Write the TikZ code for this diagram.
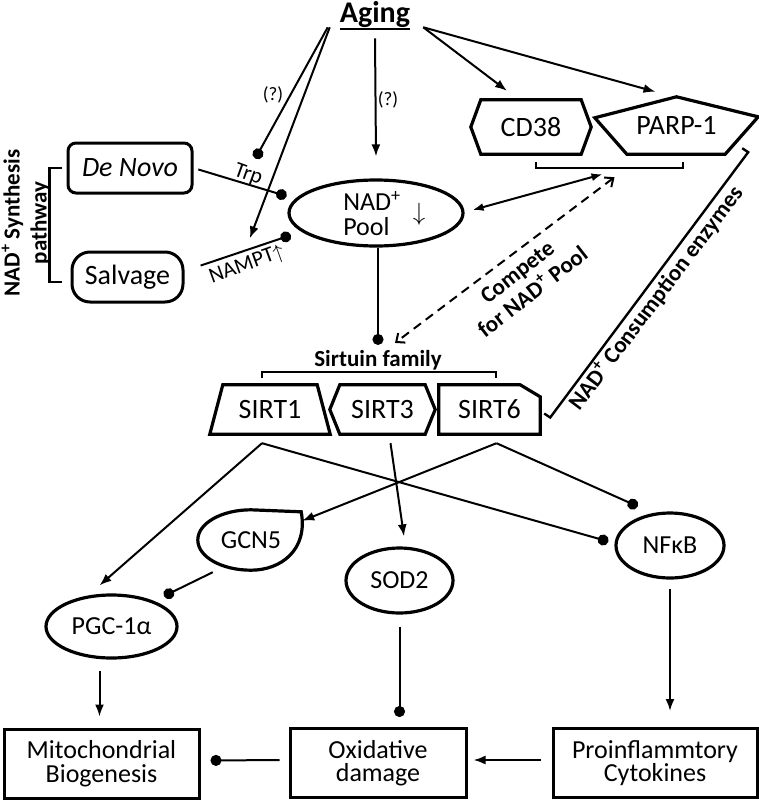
\documentclass[tikz,border=0pt]{standalone}
\usepackage{fontspec}
\setmainfont{Carlito}
\usetikzlibrary{arrows.meta,shapes.geometric}
\begin{document}
\begin{tikzpicture}[x=1pt,y=-1pt,
	lbl/.style={font=\fontsize{28}{30}\selectfont,inner sep=0pt},
	olbl/.style={font=\fontsize{26}{25}\selectfont,inner sep=0pt},
	bold/.style={font=\fontsize{23}{25}\selectfont\bfseries,inner sep=1pt},
	small/.style={font=\fontsize{19}{21}\selectfont,inner sep=1pt},
	outline/.style={line width=3.2pt,line join=miter},
	oval/.style={ellipse,draw,line width=3.2pt,inner sep=0pt,font=\fontsize{26}{25}\selectfont},
	rbox/.style={draw,line width=3pt,rounded corners=8pt,inner sep=0pt,font=\fontsize{28}{30}\selectfont},
	box/.style={draw,line width=3pt,minimum height=69,align=center,inner sep=0pt,font=\fontsize{26}{23.5}\selectfont},
	link/.style={line width=2pt},
	act/.style={link,-{Latex[length=12pt,width=9pt]}},
	inh/.style={link,-{Circle[length=11pt]}},
	brace/.style={line width=2.4pt}]
	\useasboundingbox (0,0) rectangle (759,800);

	\node[font=\fontsize{30}{32}\selectfont\bfseries,inner sep=0pt,anchor=base] (aging) at (375,23) {Aging};
	\draw[line width=2.2pt] ([yshift=-1pt]aging.south west) -- ([yshift=-1pt]aging.south east);
	\node[small] (q1) at (273,95) {(?)};
	\node[small] (q2) at (388,100) {(?)};

	% NAD+ pool and synthesis
	\node[oval,minimum width=174,minimum height=66] (pool) at (376,213) {};
	\node[olbl,align=left] (pooltxt) at (372,214) {NAD\textsuperscript{+}\\Pool};
	\node[olbl] (pooldown) at (419,214) {$\downarrow$};
	\node[rbox,minimum width=124,minimum height=50] (denovo) at (130,168) {\itshape De Novo};
	\node[rbox,rounded corners=18pt,minimum width=111,minimum height=50] (salvage) at (127.5,277) {Salvage};
	\node[bold,font=\fontsize{23}{27}\selectfont\bfseries,rotate=90,align=center] (synth) at (26,223) {NAD\textsuperscript{+} Synthesis\\pathway};
	\draw[brace] ([xshift=-5pt]denovo.west) -- ++(-12,0) |- ([xshift=-9pt,yshift=-5pt]salvage.west);
	\node[small,font=\fontsize{22}{24}\selectfont,rotate=-20] (trp) at (248,175) {Trp};
	\node[small,font=\fontsize{22}{24}\selectfont,rotate=20] (nampt) at (247,265) {NAMPT$\uparrow$};
	\draw[inh,shorten <=5pt,shorten >=9pt] (denovo.east) -- (pool.170);
	\draw[inh,shorten <=17pt,shorten >=11pt] ([yshift=6pt]salvage.east) -- (pool.194);

	% consumption enzymes
	\node[lbl,minimum width=120,minimum height=54] (cd38) at (531,127) {CD38};
	\draw[outline] (cd38.west) -- ([xshift=10pt]cd38.north west) -- ([xshift=-10pt]cd38.north east) -- (cd38.east) -- ([xshift=-10pt]cd38.south east) -- ([xshift=10pt]cd38.south west) -- cycle;
	\node[lbl,minimum width=163,minimum height=57] (parp) at (676.5,125.5) {PARP-1};
	\draw[outline] ([yshift=-21pt]parp.north west) -- (parp.north) -- ([yshift=-20pt]parp.north east) -- ([xshift=-33pt]parp.south east) -- ([xshift=32pt]parp.south west) -- cycle;
	\draw[brace] ([xshift=5pt,yshift=-8pt]cd38.south) -- ++(0,6) -| node[coordinate,pos=0.25] (enz) {} ([xshift=6.5pt,yshift=-8pt]parp.south);

	% arrows from aging
	\draw[inh,shorten >=8pt] ([xshift=-12pt,yshift=1pt]aging.south west) -- (trp.north);
	\draw[act,shorten >=18pt] ([xshift=-10pt,yshift=1pt]aging.south west) -- (nampt.north);
	\draw[act] ([yshift=-10pt]aging.south) -- ([yshift=22pt]pool.north);
	\draw[act] ([xshift=13pt,yshift=1pt]aging.south east) -- ([xshift=-24pt,yshift=9pt]cd38.north);
	\draw[act] ([xshift=13pt,yshift=1pt]aging.south east) -- ([xshift=-21pt,yshift=5pt]parp.north);

	% sirtuins
	\foreach \n/\x/\w in {1/270/120,3/382.5/105,6/489.5/101}
		\node[lbl,minimum width=\w,minimum height=49] (sirt\n) at (\x,409.5) {SIRT\n};
	\draw[outline] ([xshift=13pt]sirt1.north west) -- ([xshift=-13pt]sirt1.north east) -- (sirt1.south east) -- (sirt1.south west) -- cycle;
	\draw[outline] (sirt3.west) -- ([xshift=10pt]sirt3.north west) -- ([xshift=-10pt]sirt3.north east) -- (sirt3.east) -- ([xshift=-10pt]sirt3.south east) -- ([xshift=10pt]sirt3.south west) -- cycle;
	\draw[outline] (sirt6.north west) -- ([xshift=-20pt]sirt6.north east) -- ([yshift=-12pt]sirt6.north east) -- (sirt6.south east) -- (sirt6.south west) -- cycle;
	\node[bold] (sirtfam) at (378,360) {Sirtuin family};
	\draw[brace] ([xshift=-8pt,yshift=7pt]sirt1.north) -- ++(0,-6) -| ([xshift=6.5pt,yshift=7pt]sirt6.north);
	\draw[brace] ([xshift=-16pt,yshift=6pt]parp.south east) -- ([xshift=-10pt,yshift=2pt]parp.south east) -- ([xshift=10pt,yshift=-8pt]sirt6.east) -- ([xshift=4pt,yshift=-4pt]sirt6.east);
	\node[bold,rotate=53] (consume) at (656,298) {NAD\textsuperscript{+} Consumption enzymes};
	\node[bold,rotate=38,align=center] (compete) at (525,282) {Compete\\for NAD\textsuperscript{+} Pool};

	\draw[inh,shorten >=4pt] (pool.south -| sirtfam.north) -- (sirtfam.north);
	\draw[link,{Latex[length=11pt,width=8pt]}-{Latex[length=11pt,width=8pt]}] ([xshift=8pt,yshift=3pt]pool.east) -- ([xshift=-7pt,yshift=-6pt]enz);
	\draw[link,dash pattern=on 9pt off 6pt,{Straight Barb[length=7pt,width=12pt]}-{Straight Barb[length=7pt,width=12pt]}] ([xshift=5pt,yshift=-9pt]enz) -- ([xshift=17pt,yshift=6pt]sirtfam.north);

	% targets
	\node[olbl,minimum width=106,minimum height=60] (gcn5) at (251,540) {GCN5};
	\draw[outline] (gcn5.north) -- ([xshift=-3pt,yshift=-2pt]gcn5.north east) .. controls ([xshift=4pt,yshift=-40pt]gcn5.north east) and ([xshift=30pt]gcn5.south) .. (gcn5.south) .. controls ([xshift=-29pt]gcn5.south) and ([yshift=-17pt]gcn5.west) .. (gcn5.west) .. controls ([yshift=17pt]gcn5.west) and ([xshift=-29pt]gcn5.north) .. (gcn5.north) -- cycle;
	\node[oval,minimum width=131,minimum height=63] (pgc) at (111.5,626.5) {PGC-1α};
	\node[oval,minimum width=107,minimum height=65] (sod2) at (399.5,580.5) {SOD2};
	\node[oval,minimum width=108,minimum height=65] (nfkb) at (670,545.5) {NFκB};

	\draw[act] ([xshift=-8pt,yshift=-9pt]sirt1.south) -- ([xshift=-12pt,yshift=8pt]pgc.north);
	\draw[inh] ([xshift=-8pt,yshift=-9pt]sirt1.south) -- ([xshift=-6pt,yshift=4pt]nfkb.west);
	\draw[act] ([xshift=8pt,yshift=-9pt]sirt3.south) -- ([xshift=4.5pt,yshift=10pt]sod2.north);
	\draw[act] ([xshift=7pt,yshift=-9pt]sirt6.south) -- ([xshift=-2pt,yshift=-11pt]gcn5.north east);
	\draw[inh] ([xshift=7pt,yshift=-9pt]sirt6.south) -- ([xshift=7pt,yshift=15pt]nfkb.north west);
	\draw[inh] ([xshift=15pt,yshift=-2pt]gcn5.south west) -- ([xshift=5pt,yshift=7pt]pgc.north east);

	% outcomes
	\node[box,minimum width=195] (mito) at (101.5,763.5) {Mitochondrial\\Biogenesis};
	\node[box,minimum width=176] (oxid) at (378,763) {Oxidative\\damage};
	\node[box,minimum width=204] (proinf) at (655,763) {Proinflammtory\\Cytokines};
	\draw[act,shorten <=11pt,shorten >=11pt] ([xshift=-12pt]pgc.south) -- ([xshift=-12pt]pgc.south |- mito.north);
	\draw[inh,shorten <=12pt,shorten >=10pt] (sod2.south) -- (sod2.south |- oxid.north);
	\draw[act,shorten <=9pt,shorten >=16pt] (nfkb.south) -- (nfkb.south |- proinf.north);
	\draw[act,shorten <=11pt,shorten >=6pt] ([yshift=3pt]proinf.west) -- ([yshift=3pt]oxid.east);
	\draw[inh,shorten <=9pt,shorten >=10pt] ([yshift=3pt]oxid.west) -- ([yshift=3pt]mito.east);
\end{tikzpicture}
\end{document}
